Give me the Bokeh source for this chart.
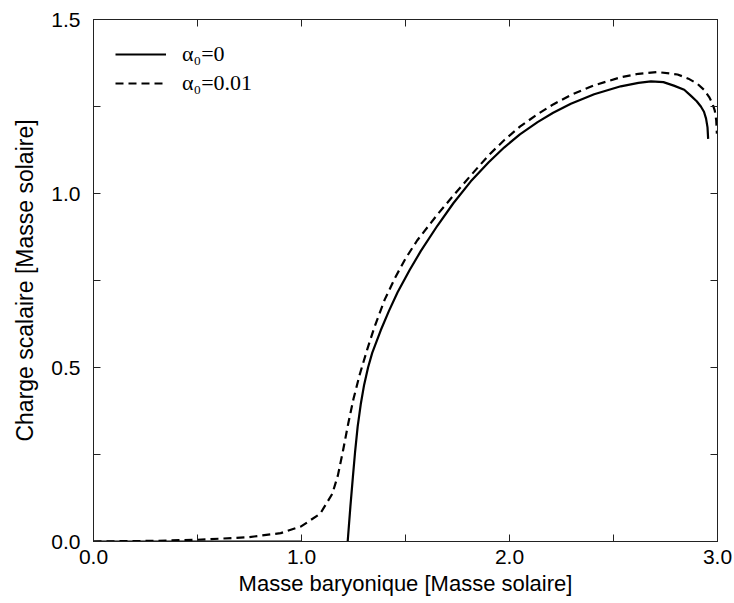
import numpy as np
from bokeh.plotting import figure
from bokeh.models import (ColumnDataSource, FixedTicker, LinearAxis, Range1d,
                          Legend, LegendItem)
from bokeh.embed import file_html
from bokeh.resources import INLINE

# ---- data ----
x_a0 = [0.0, 1.0, np.nan, 1.222, 1.235, 1.247, 1.258, 1.27, 1.285, 1.301, 1.32,
        1.34, 1.381, 1.42, 1.462, 1.52, 1.574, 1.654, 1.73, 1.814, 1.90, 1.974,
        2.05, 2.135, 2.21, 2.295, 2.407, 2.535, 2.62, 2.68, 2.74, 2.79, 2.84,
        2.87, 2.90, 2.92, 2.935, 2.945, 2.952, 2.955]
y_a0 = [0.0, 0.0, np.nan, 0.0, 0.1, 0.185, 0.26, 0.33, 0.395, 0.45, 0.5,
        0.542, 0.607, 0.662, 0.716, 0.78, 0.835, 0.908, 0.972, 1.035, 1.09, 1.132,
        1.17, 1.205, 1.232, 1.258, 1.285, 1.308, 1.318, 1.322, 1.32, 1.31, 1.298,
        1.282, 1.265, 1.25, 1.235, 1.215, 1.19, 1.157]

x_a001 = [0.0, 0.3, 0.5, 0.74, 0.9, 1.0, 1.09, 1.148, 1.175, 1.20, 1.225, 1.25,
          1.28, 1.315, 1.35, 1.40, 1.45, 1.50, 1.556, 1.654, 1.73, 1.814, 1.90,
          1.974, 2.05, 2.135, 2.21, 2.295, 2.407, 2.535, 2.62, 2.713, 2.808, 2.86,
          2.904, 2.935, 2.96, 2.975, 2.987, 2.994, 2.997]
y_a001 = [0.0, 0.002, 0.005, 0.012, 0.024, 0.044, 0.08, 0.137, 0.19, 0.262, 0.34,
          0.41, 0.48, 0.55, 0.615, 0.695, 0.758, 0.813, 0.865, 0.94, 0.994, 1.052,
          1.11, 1.153, 1.192, 1.228, 1.256, 1.283, 1.311, 1.334, 1.344, 1.349, 1.342,
          1.33, 1.315, 1.298, 1.277, 1.26, 1.238, 1.21, 1.172]

series_labels = ["α₀=0", "α₀=0.01"]

x_ticks = [0, 1, 2, 3]
x_tick_labels = ["0.0", "1.0", "2.0", "3.0"]
x_minor = [0.5, 1.5, 2.5]
y_ticks = [0, 0.5, 1, 1.5]
y_tick_labels = ["0.0", "0.5", "1.0", "1.5"]
y_minor = [0.25, 0.75, 1.25]

x_title = "Masse baryonique [Masse solaire]"
y_title = "Charge scalaire [Masse solaire]"

# ---- figure ----
FONT = "Liberation Sans"
FRAME = "#222222"

p = figure(width=734, height=603, output_backend="svg", toolbar_location=None,
           x_range=Range1d(0, 3), y_range=Range1d(0, 1.5),
           min_border_left=93, min_border_right=17, min_border_top=19,
           min_border_bottom=62)
p.grid.visible = False
p.outline_line_color = FRAME
p.outline_line_width = 1
p.background_fill_color = "white"
p.border_fill_color = "white"

src0 = ColumnDataSource(dict(x=x_a0, y=y_a0))
src1 = ColumnDataSource(dict(x=x_a001, y=y_a001))
r0 = p.line("x", "y", source=src0, line_color="black", line_width=2.2)
r1 = p.line("x", "y", source=src1, line_color="black", line_width=2.2,
            line_dash="8 5")


def style_axis(ax, ticks, labels, minor, show_labels=True):
    ax.ticker = FixedTicker(ticks=ticks, minor_ticks=minor)
    ax.major_label_overrides = {t: l for t, l in zip(ticks, labels)}
    ax.axis_line_color = FRAME
    ax.major_tick_line_color = FRAME
    ax.minor_tick_line_color = FRAME
    ax.major_tick_in = 7
    ax.major_tick_out = 0
    ax.minor_tick_in = 7
    ax.minor_tick_out = 0
    ax.major_label_text_font = FONT
    ax.major_label_text_font_size = "21px" if show_labels else "0px"
    ax.major_label_text_color = "black"
    ax.major_label_standoff = 10


xa = p.xaxis[0]
ya = p.yaxis[0]
style_axis(xa, x_ticks, x_tick_labels, x_minor)
style_axis(ya, y_ticks, y_tick_labels, y_minor)
xa.major_label_standoff = 8
ya.major_label_standoff = 13
xa.axis_label = x_title
ya.axis_label = y_title
for ax in (xa, ya):
    ax.axis_label_text_font = FONT
    ax.axis_label_text_font_style = "normal"
    ax.axis_label_text_color = "black"
xa.axis_label_text_font_size = "22px"
ya.axis_label_text_font_size = "23px"
xa.axis_label_standoff = 4
ya.axis_label_standoff = 10

top = LinearAxis()
right = LinearAxis()
style_axis(top, x_ticks, ["" for _ in x_ticks], x_minor, show_labels=False)
style_axis(right, y_ticks, ["" for _ in y_ticks], y_minor, show_labels=False)
top.major_label_standoff = 0
right.major_label_standoff = 0
p.add_layout(top, "above")
p.add_layout(right, "right")

legend = Legend(items=[LegendItem(label=series_labels[0], renderers=[r0]),
                       LegendItem(label=series_labels[1], renderers=[r1])],
                location="top_left")
legend.margin = 22
legend.padding = 10
legend.spacing = 3
legend.glyph_width = 51
legend.glyph_height = 20
legend.label_height = 20
legend.label_standoff = 16
legend.label_text_font = "Liberation Serif"
legend.label_text_font_size = "22px"
legend.label_text_color = "black"
legend.border_line_color = None
legend.background_fill_alpha = 0
p.add_layout(legend)

open("out.html", "w").write(file_html(p, INLINE))
